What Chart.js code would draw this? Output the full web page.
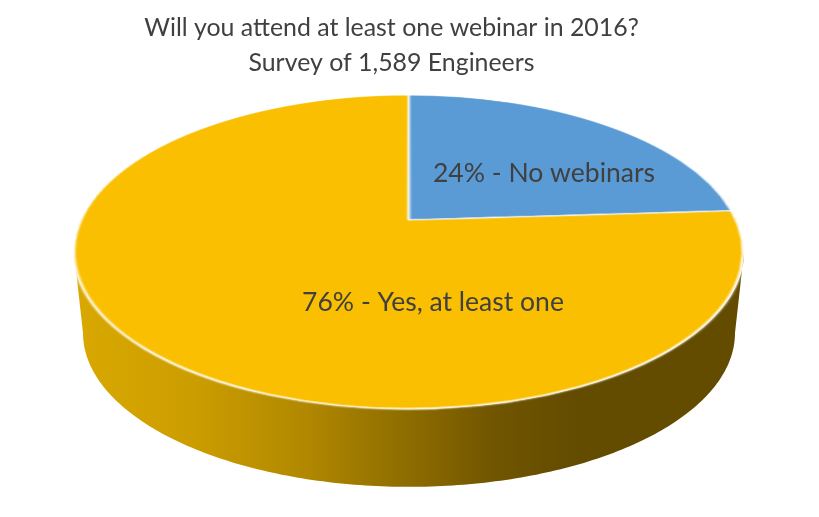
<!DOCTYPE html>
<html>
<head>
<meta charset="utf-8">
<script src="https://cdn.jsdelivr.net/npm/chart.js@4"></script>
<style>
  html, body { margin: 0; padding: 0; background: #ffffff; }
  #wrap { width: 819px; height: 517px; position: relative; }
</style>
</head>
<body>
<div id="wrap"><canvas id="c"></canvas></div>
<script>
// ---- data ----
const titleLines = ['Will you attend at least one webinar in 2016?', 'Survey of 1,589 Engineers'];
const categories = ['No webinars', 'Yes, at least one'];
const percentages = [24, 76];
const sliceColors = ['#5B9BD5', '#FABF00'];

const FONT = 'Lato, "Open Sans", sans-serif';
const TEXT_COLOR = '#404040';

// fit font size so that the text width matches the reference (Calibri-like)
function fitSize(text, targetW, base) {
  const m = document.createElement('canvas').getContext('2d');
  m.font = base + 'px ' + FONT;
  return base * targetW / m.measureText(text).width;
}
const titleSize = fitSize(titleLines[0], 495, 26);
const labelSize = fitSize(percentages[1] + '% - ' + categories[1], 262, 26);

// perspective (homography) of the pie's top face: x = X0 + A*u/(C*v+1), y = (B*v+E)/(C*v+1)
const P = { X0: 409, A: 328, B: -105.64, C: 0.2038, E: 220 };
const yOf = v => (P.B * v + P.E) / (P.C * v + 1);
const vOf = y => (P.E - y) / (y * P.C - P.B);
const proj = (u, v) => ({ x: P.X0 + P.A * u / (P.C * v + 1), y: yOf(v) });

// label anchors (text centers) relative to the picture
const labelPos = [{ x: 544, y: 173 }, { x: 433, y: 302 }];

const pie3d = {
  id: 'pie3d',
  afterDatasetsDraw(chart) {
    const ctx = chart.ctx;
    const dpr = chart.currentDevicePixelRatio || 1;
    const arc = chart.getDatasetMeta(0).data[0];
    const cx = arc.x, cy = arc.y, R = arc.outerRadius;
    const S = R + 2;
    // copy the library-drawn flat pie into an offscreen canvas
    const off = document.createElement('canvas');
    off.width = Math.ceil(2 * S * dpr); off.height = Math.ceil(2 * S * dpr);
    const octx = off.getContext('2d');
    octx.drawImage(chart.canvas, (cx - S) * dpr, (cy - S) * dpr, 2 * S * dpr, 2 * S * dpr, 0, 0, 2 * S * dpr, 2 * S * dpr);

    ctx.save();
    ctx.setTransform(1, 0, 0, 1, 0, 0);
    ctx.clearRect((cx - S) * dpr - 1, (cy - S) * dpr - 1, 2 * S * dpr + 2, 2 * S * dpr + 2);
    ctx.restore();

    // --- side wall ---
    const a = Math.asin(P.C);
    const yExt = proj(Math.cos(-a), Math.sin(-a)).y;
    const bottomOf = p => ({ x: P.X0 + (p.x - P.X0) * 0.973, y: yExt + 81 + (p.y - yExt) * 0.98 });
    const top = [];
    const N = 200;
    for (let i = 0; i <= N; i++) {
      const phi = -a - (Math.PI - 2 * a) * i / N;
      top.push(proj(Math.cos(phi), Math.sin(phi)));
    }
    ctx.save();
    ctx.beginPath();
    top.forEach((p, i) => i ? ctx.lineTo(p.x, p.y) : ctx.moveTo(p.x, p.y));
    for (let i = N; i >= 0; i--) { const b = bottomOf(top[i]); ctx.lineTo(b.x, b.y); }
    ctx.closePath();
    const left = top[N].x, right = top[0].x;
    const g = ctx.createLinearGradient(left, 0, right, 0);
    g.addColorStop(0.00, '#D9A800');
    g.addColorStop(0.18, '#CC9D00');
    g.addColorStop(0.35, '#B08700');
    g.addColorStop(0.50, '#8D6C00');
    g.addColorStop(0.63, '#705500');
    g.addColorStop(0.75, '#634B00');
    g.addColorStop(1.00, '#634B00');
    ctx.fillStyle = g;
    ctx.fill();
    ctx.restore();

    // --- warped top face, row by row ---
    ctx.save();
    ctx.setTransform(1, 0, 0, 1, 0, 0);
    ctx.imageSmoothingEnabled = true;
    ctx.imageSmoothingQuality = 'high';
    const k = S / R;
    const y0 = Math.floor(yOf(k) * dpr), y1 = Math.ceil(yOf(-k) * dpr);
    for (let Y = y0; Y < y1; Y++) {
      const va = vOf(Y / dpr), vb = vOf((Y + 1) / dpr);
      const vm = (va + vb) / 2;
      let s0 = (S - va * R) * dpr, s1 = (S - vb * R) * dpr;
      s0 = Math.max(0, s0); s1 = Math.min(off.height, s1);
      if (s1 - s0 <= 0.001) continue;
      const w = P.A * k / (P.C * vm + 1);
      ctx.drawImage(off, 0, s0, off.width, s1 - s0, (P.X0 - w) * dpr, Y, 2 * w * dpr, 1);
    }
    ctx.restore();
  },
  afterDraw(chart) {
    const ctx = chart.ctx;
    ctx.save();
    ctx.font = labelSize + 'px ' + FONT;
    ctx.fillStyle = TEXT_COLOR;
    ctx.textAlign = 'center';
    ctx.textBaseline = 'middle';
    percentages.forEach((p, i) => {
      ctx.fillText(p + '% - ' + categories[i], labelPos[i].x, labelPos[i].y);
    });
    ctx.restore();
  }
};

new Chart(document.getElementById('c'), {
  type: 'pie',
  data: {
    labels: categories,
    datasets: [{
      data: percentages,
      backgroundColor: sliceColors,
      borderColor: '#ffffff',
      borderWidth: 1.5
    }]
  },
  options: {
    responsive: true,
    maintainAspectRatio: false,
    animation: false,
    events: [],
    layout: { padding: { top: 0, right: 36, bottom: 24, left: 0 } },
    plugins: {
      legend: { display: false },
      tooltip: { enabled: false },
      title: {
        display: true,
        text: titleLines,
        color: TEXT_COLOR,
        font: { family: FONT, size: titleSize, weight: 'normal', lineHeight: 34.5 / titleSize },
        padding: { top: 11, bottom: 10 }
      }
    }
  },
  plugins: [pie3d]
});
</script>
</body>
</html>
